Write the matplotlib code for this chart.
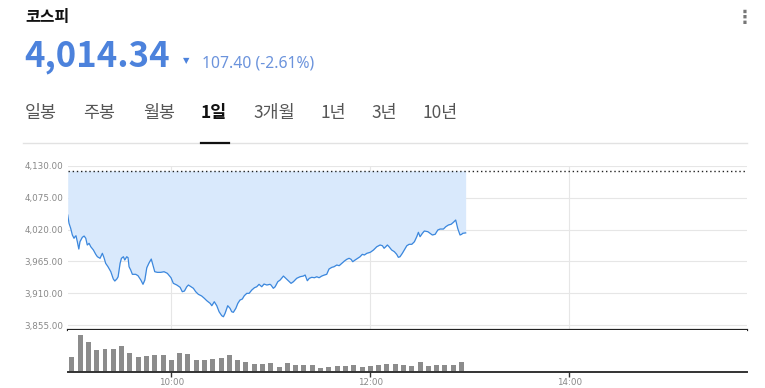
import matplotlib
matplotlib.use('Agg')
import matplotlib.pyplot as plt
import numpy as np

plt.rcParams['font.family'] = ['Noto Sans CJK KR', 'DejaVu Sans']

# intraday KOSPI, minutes after 09:00
minutes = [-2.5, -1.7, -0.7, 0.3, 1.3, 1.9, 2.5, 3.3, 4.2, 4.9, 6.3, 7.4, 8.4, 9.3, 10.4,
           11.4, 13.0, 14.4, 15.4, 17.0, 18.4, 19.4, 20.4, 21.8, 23.5, 25.0, 25.9, 27.1,
           27.9, 29.1, 29.9, 31.1, 31.9, 33.1, 33.9, 34.5, 35.5, 36.5, 38.5, 39.9, 41.6,
           42.9, 44.0, 45.2, 46.6, 47.9, 49.2, 50.0, 51.6, 53.6, 55.6, 57.6, 59.8, 61.2,
           63.3, 65.3, 66.6, 67.9, 69.3, 70.3, 71.9, 73.3, 74.7, 76.3, 78.3, 79.9, 81.4,
           83.4, 84.4, 85.9, 87.4, 88.8, 90.4, 91.4, 92.4, 94.0, 95.4, 96.4, 97.4, 98.9,
           100.1, 101.4, 102.8, 104.0, 105.5, 106.9, 108.5, 110.1, 111.5, 112.9, 114.5,
           115.9, 117.6, 119.5, 120.1, 121.5, 122.6, 124.2, 125.6, 127.6, 129.0, 130.6,
           132.2, 133.6, 135.6, 137.6, 139.6, 140.7, 142.0, 143.2, 144.7, 146.3, 147.7,
           149.1, 150.7, 152.3, 153.7, 155.1, 156.8, 158.1, 159.8, 161.2, 162.8, 164.4,
           165.8, 167.2, 168.4, 169.4, 170.8, 172.4, 173.8, 175.2, 176.4, 177.9, 179.9,
           180.5, 181.9, 183.9, 185.9, 187.3, 188.3, 189.3, 190.3, 191.3, 192.9, 194.5,
           195.9, 196.9, 197.9, 199.3, 200.5, 202.0, 203.4, 205.0, 206.6, 208.0, 209.0,
           210.0, 211.4, 212.6, 214.7, 216.0, 217.4, 219.1, 220.7, 222.1, 224.1, 225.5,
           227.1, 228.7, 230.1, 231.5, 232.7, 234.1, 235.1, 235.7, 237.5]
prices = [4045.3, 4030.9, 4022.2, 4010.7, 4005.0, 4007.7, 4009.4, 3999.1, 3986.4, 3999.1,
          4006.7, 4008.9, 4005.0, 3993.4, 3996.3, 3990.4, 3984.7, 3977.3, 3973.1, 3970.4,
          3979.0, 3971.4, 3961.7, 3955.8, 3947.2, 3934.6, 3931.1, 3934.6, 3938.5, 3961.7,
          3970.4, 3973.1, 3967.4, 3973.1, 3971.4, 3955.8, 3950.1, 3942.7, 3942.7, 3940.3,
          3932.8, 3925.4, 3932.8, 3954.1, 3962.7, 3969.1, 3955.8, 3947.2, 3946.1, 3946.1,
          3947.2, 3944.4, 3936.8, 3927.1, 3924.2, 3920.2, 3912.6, 3913.8, 3921.2, 3924.2,
          3921.2, 3918.5, 3912.6, 3908.1, 3905.2, 3901.2, 3897.0, 3892.5, 3888.4, 3895.3,
          3888.4, 3878.0, 3871.1, 3869.3, 3875.2, 3888.4, 3883.9, 3878.0, 3877.0, 3883.9,
          3892.5, 3898.2, 3900.0, 3905.7, 3909.8, 3909.8, 3915.5, 3919.5, 3921.2, 3925.4,
          3921.2, 3925.9, 3924.2, 3925.4, 3924.2, 3918.5, 3921.2, 3929.9, 3932.8, 3939.7,
          3935.8, 3931.6, 3927.1, 3929.9, 3935.8, 3938.5, 3939.7, 3941.5, 3931.6, 3935.8,
          3937.5, 3936.8, 3938.5, 3936.8, 3939.7, 3941.5, 3942.7, 3951.9, 3954.8, 3955.8,
          3958.8, 3957.6, 3961.7, 3965.7, 3968.6, 3970.4, 3968.6, 3964.5, 3967.4, 3970.4,
          3973.1, 3977.3, 3976.1, 3979.0, 3980.7, 3981.8, 3984.7, 3990.4, 3993.4, 3992.1,
          3987.7, 3990.4, 3993.4, 3990.4, 3984.7, 3981.8, 3977.3, 3972.1, 3973.1, 3979.0,
          3984.7, 3992.1, 3994.6, 3994.6, 3999.1, 4007.7, 4015.3, 4007.7, 4013.6, 4017.6,
          4016.4, 4013.6, 4010.7, 4011.9, 4019.3, 4021.0, 4021.0, 4025.0, 4028.0, 4029.2,
          4032.6, 4036.6, 4022.2, 4010.7, 4011.9, 4013.6, 4014.34]
prev_close = 4121.74

# 5-minute volume bars (relative units)
vol_minutes = list(range(0, 240, 5))
volumes = [150, 373, 300, 220, 230, 230, 260, 190, 147, 163, 170, 170, 123, 190, 180, 120,
           123, 133, 140, 170, 120, 97, 83, 83, 90, 53, 90, 70, 70, 70, 40, 53,
           60, 60, 70, 50, 60, 70, 80, 83, 67, 60, 97, 60, 70, 70, 70, 97]

ytick_vals = [3855, 3910, 3965, 4020, 4075, 4130]
xtick_vals = [60, 180, 300]
xtick_labels = ['10:00', '12:00', '14:00']
tabs = ['일봉', '주봉', '월봉', '1일', '3개월', '1년', '3년', '10년']
tab_x = [25, 83, 143, 201, 253, 321, 371, 423]

W, H = 765, 388
fig = plt.figure(figsize=(W / 100, H / 100), dpi=100)

def fx(px):
    return px / W

def fy(py):
    return 1 - py / H

line_color = '#3b87dd'
fill_color = '#d9e9fc'
grid_color = '#e6e6e6'
label_color = '#888888'

# price panel
ax = fig.add_axes([fx(67.7), fy(330), fx(746.7) - fx(67.7), fy(166) - fy(330)])
ax.fill_between(minutes, prices, prev_close, color=fill_color, lw=0)
ax.plot(minutes, prices, color=line_color, lw=0.9)
ax.axhline(prev_close, color='#222222', lw=1.0, ls=(0, (1, 2)))
ax.set_xlim(-2.5, 407)
ax.set_ylim(3846.4, 4130)
ax.set_yticks(ytick_vals)
ax.set_yticklabels([f'{v:,.2f}' for v in ytick_vals], family='DejaVu Sans',
                   fontsize=6.3, color=label_color)
ax.set_xticks(xtick_vals)
ax.set_xticklabels([])
ax.tick_params(axis='both', length=0, pad=3)
ax.grid(True, color=grid_color, lw=0.8)
ax.set_axisbelow(True)
for s in ['top', 'right', 'left']:
    ax.spines[s].set_visible(False)
ax.spines['bottom'].set_color('#222222')
ax.spines['bottom'].set_linewidth(1.6)

# volume panel
axv = fig.add_axes([fx(67.7), fy(372), fx(746.7) - fx(67.7), fy(330) - fy(372)])
axv.bar(vol_minutes, volumes, width=3.0, color='#8c8c8c')
axv.set_xlim(-2.5, 407)
axv.set_ylim(0, 420)
axv.set_yticks([])
axv.set_xticks(xtick_vals)
axv.set_xticklabels(xtick_labels, family='DejaVu Sans', fontsize=6.3, color=label_color)
axv.tick_params(axis='x', length=3.5, width=1, color='#333333', pad=1)
for s in ['top', 'right', 'left']:
    axv.spines[s].set_visible(False)
axv.spines['bottom'].set_color('#333333')
axv.spines['bottom'].set_linewidth(1.4)

# header
fig.text(fx(25), fy(17), '코스피', fontsize=11.5, fontweight='bold', color='#111111',
         va='center', ha='left')
fig.text(fx(24), fy(56.5), '4,014.34', fontsize=25, fontweight='bold', color='#4c82dc',
         va='center', ha='left')
fig.text(fx(186), fy(61), '▼', fontsize=6, color='#4c82dc', va='center', ha='center',
         family='DejaVu Sans')
fig.text(fx(202), fy(63), '107.40 (-2.61%)', fontsize=11.3, color='#6b93dc',
         va='center', ha='left', family=['Noto Sans', 'DejaVu Sans'])
fig.text(fx(745), fy(18), '⋮', fontsize=13, color='#777777', va='center', ha='center',
         family='DejaVu Sans', fontweight='bold')

for name, x0 in zip(tabs, tab_x):
    active = name == '1일'
    fig.text(fx(x0), fy(113), name, fontsize=12.5, va='center', ha='left',
             color='#111111' if active else '#555555',
             fontweight='bold' if active else 'normal')

fig.add_artist(plt.Line2D([fx(23), fx(747)], [fy(142.5), fy(142.5)], color='#e2e2e2', lw=1))
fig.add_artist(plt.Line2D([fx(201), fx(229)], [fy(142.5), fy(142.5)], color='#111111', lw=1.6))

fig.savefig('out.png', dpi=100)
